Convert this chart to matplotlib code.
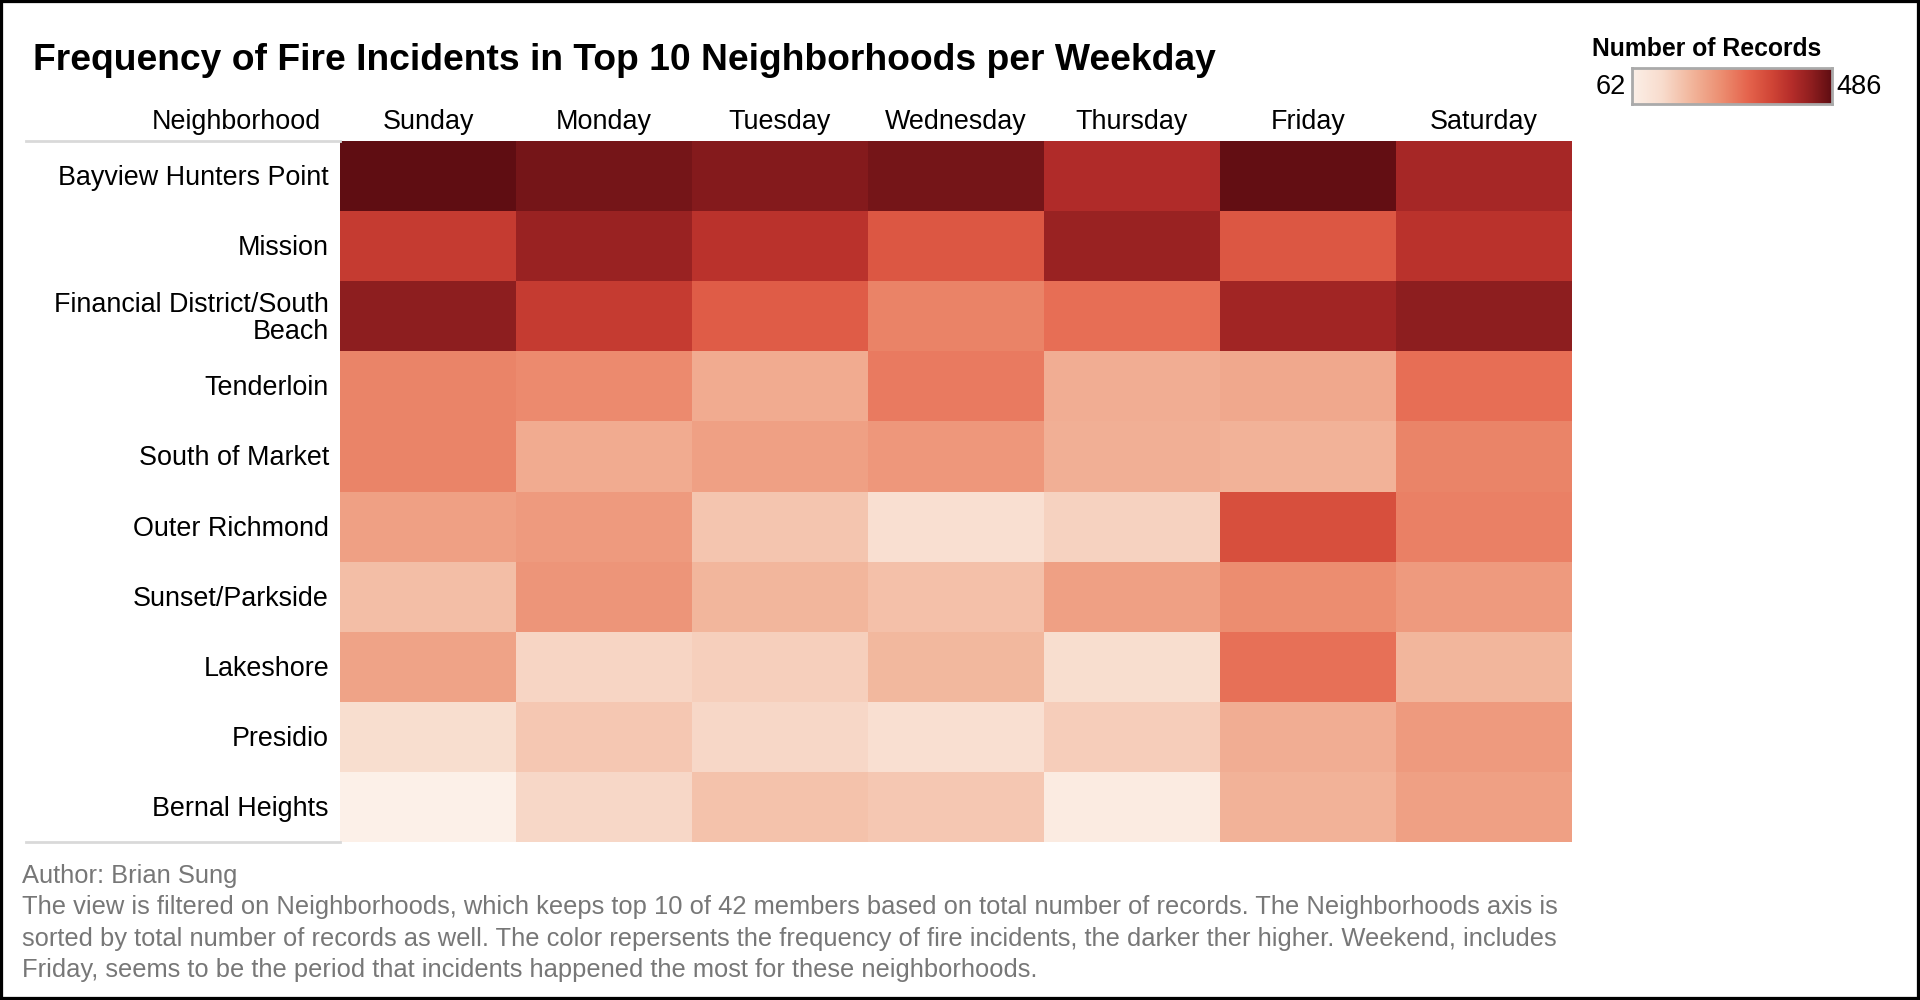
import numpy as np
import matplotlib
matplotlib.use('Agg')
import matplotlib.pyplot as plt
from matplotlib.colors import LinearSegmentedColormap
from matplotlib.lines import Line2D
from matplotlib.patches import Rectangle

plt.rcParams['font.family'] = ['Liberation Sans', 'DejaVu Sans']

neighborhoods = ['Bayview Hunters Point', 'Mission', 'Financial District/South\nBeach',
                 'Tenderloin', 'South of Market', 'Outer Richmond', 'Sunset/Parkside',
                 'Lakeshore', 'Presidio', 'Bernal Heights']
weekdays = ['Sunday', 'Monday', 'Tuesday', 'Wednesday', 'Thursday', 'Friday', 'Saturday']

# records per neighborhood, Sunday..Saturday
bayview = [486, 465, 452, 465, 405, 482, 418]
mission = [376, 431, 393, 329, 431, 329, 393]
financial = [444, 376, 321, 266, 295, 422, 444]
tenderloin = [265, 257, 206, 278, 202, 210, 295]
soma = [265, 206, 223, 236, 198, 193, 265]
outer_richmond = [223, 232, 164, 117, 143, 342, 270]
sunset = [176, 240, 189, 172, 223, 253, 232]
lakeshore = [219, 138, 147, 185, 121, 291, 189]
presidio = [121, 160, 134, 117, 151, 202, 232]
bernal = [62, 134, 168, 160, 80, 193, 223]

vmin, vmax = 62, 486

data = np.array([bayview, mission, financial, tenderloin, soma,
                 outer_richmond, sunset, lakeshore, presidio, bernal])

reds = LinearSegmentedColormap.from_list('tab_red', [
    (0.00, '#fcf0e8'), (0.15, '#f8dccd'), (0.30, '#f2b59b'), (0.45, '#ec8d70'),
    (0.58, '#e5644d'), (0.70, '#d04536'), (0.80, '#b52d2a'), (0.90, '#8e1e1f'),
    (1.00, '#5f0d12')])

fig = plt.figure(figsize=(19.2, 10), dpi=100)

ax = fig.add_axes([340/1920, 1-842/1000, 1232/1920, 701/1000])
ax.pcolormesh(np.arange(len(weekdays)+1), np.arange(len(neighborhoods)+1), data,
              cmap=reds, vmin=vmin, vmax=vmax)
ax.set_xlim(0, len(weekdays))
ax.set_ylim(len(neighborhoods), 0)
ax.axis('off')

# row labels
for i, name in enumerate(neighborhoods):
    fig.text(329/1920, 1-(143+70.1*(i+0.5))/1000, name, ha='right', va='center',
             fontsize=19.4, linespacing=1.05)

# column headers
for j, day in enumerate(weekdays):
    fig.text((340+176*(j+0.5))/1920, 1-122/1000, day, ha='center', va='center', fontsize=19.4)
fig.text(321/1920, 1-122/1000, 'Neighborhood', ha='right', va='center', fontsize=19.4)

# grey separators
for yy in [141, 842]:
    fig.add_artist(Line2D([26/1920, 340/1920], [1-yy/1000, 1-yy/1000], color='#d9d9d9', lw=2))

fig.text(33/1920, 1-60/1000, 'Frequency of Fire Incidents in Top 10 Neighborhoods per Weekday',
         ha='left', va='center', fontsize=26.8, fontweight='bold')

# legend
fig.text(1592/1920, 1-49/1000, 'Number of Records', ha='left', va='center',
         fontsize=17.8, fontweight='bold')
cax = fig.add_axes([1632/1920, 1-104/1000, 200/1920, 36/1000])
cax.imshow(np.linspace(0, 1, 256)[None, :], cmap=reds, aspect='auto', extent=[0, 1, 0, 1])
cax.set_xticks([])
cax.set_yticks([])
for s in cax.spines.values():
    s.set_color('#aaaaaa')
    s.set_linewidth(2)
fig.text(1626/1920, 1-87/1000, str(vmin), ha='right', va='center', fontsize=19.6)
fig.text(1836/1920, 1-87/1000, str(vmax), ha='left', va='center', fontsize=19.6)

# footer
footer = ['Author: Brian Sung',
          'The view is filtered on Neighborhoods, which keeps top 10 of 42 members based on total number of records. The Neighborhoods axis is',
          'sorted by total number of records as well. The color repersents the frequency of fire incidents, the darker ther higher. Weekend, includes',
          'Friday, seems to be the period that incidents happened the most for these neighborhoods.']
for k, line in enumerate(footer):
    fig.text(22/1920, 1-(876+31.4*k)/1000, line, ha='left', va='center', fontsize=18.4, color='#777777')

# outer frame
fig.add_artist(Rectangle((0, 0), 1, 1, transform=fig.transFigure, fill=False,
                         edgecolor='black', lw=4.5))

plt.savefig('out.png', dpi=100)
